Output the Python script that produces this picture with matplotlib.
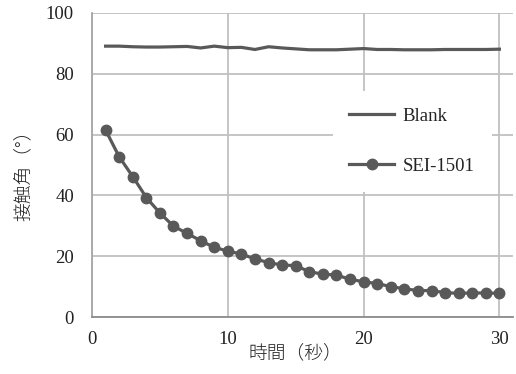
import matplotlib
matplotlib.use("Agg")
import matplotlib.pyplot as plt

# Time (s)
time_s = list(range(1, 31))

# Contact angle (deg) of untreated reference
blank = [89.1, 89.1, 88.9, 88.8, 88.8, 88.9, 89.0, 88.5, 89.1, 88.6,
         88.7, 88.0, 88.9, 88.5, 88.2, 87.9, 87.9, 87.9, 88.1, 88.3,
         88.0, 88.0, 87.9, 87.9, 87.9, 88.0, 88.0, 88.0, 88.0, 88.1]

# Contact angle (deg) with SEI-1501
sei_1501 = [61.5, 52.7, 46.2, 39.3, 34.2, 29.9, 27.5, 25.1, 22.9, 21.7,
            20.7, 19.1, 17.9, 17.1, 16.9, 14.9, 14.1, 13.8, 12.4, 11.6,
            11.0, 10.0, 9.3, 8.7, 8.7, 8.0, 7.8, 7.9, 7.9, 7.8]

x_ticks = [0, 10, 20, 30]
y_ticks = [0, 20, 40, 60, 80, 100]

plt.rcParams['font.family'] = ['Liberation Serif', 'Noto Sans CJK JP']
line_color = '#595959'
grid_color = '#c0c0c0'

fig = plt.figure(figsize=(5.16, 3.74), dpi=100)
ax = fig.add_axes([92 / 516, 1 - 317 / 374, 421 / 516, 304 / 374])

ax.plot(time_s, blank, color=line_color, lw=2.3, label='Blank', zorder=3)
ax.plot(time_s, sei_1501, color=line_color, lw=2.3, marker='o', ms=7.5,
        label='SEI-1501', zorder=3)

ax.set_xlim(0, 31)
ax.set_ylim(0, 100)
ax.set_xticks(x_ticks)
ax.set_yticks(y_ticks)
ax.tick_params(length=0, labelsize=13.5, colors='#222222')
ax.tick_params(axis='y', pad=13)
ax.tick_params(axis='x', pad=10)

ax.grid(True, color=grid_color, lw=1.3, zorder=0)
ax.set_axisbelow(True)
for side in ['top', 'right']:
    ax.spines[side].set_visible(False)
ax.spines['left'].set_color('#a6a6a6')
ax.spines['bottom'].set_color('#8c8c8c')
ax.spines['left'].set_linewidth(1.3)
ax.spines['bottom'].set_linewidth(1.3)

ax.set_xlabel('時間（秒）', fontsize=13.5, color='#222222',
              family=['Noto Sans CJK JP'], fontweight='light')
ax.set_ylabel('接触角（°）', fontsize=13.5, color='#222222',
              family=['Noto Sans CJK JP'], fontweight='light')
ax.xaxis.set_label_coords(15 / 31, -0.09)
ax.yaxis.set_label_coords(-0.14, 0.48)

leg = ax.legend(loc='center left', bbox_to_anchor=(0.549, 0.578),
                frameon=True, facecolor='white', edgecolor='none',
                framealpha=1, fancybox=False, fontsize=13.5,
                handlelength=2.4, handletextpad=0.45, labelspacing=1.75,
                borderpad=0.9)
for t in leg.get_texts():
    t.set_color('#222222')

fig.savefig('out.png', dpi=100)
